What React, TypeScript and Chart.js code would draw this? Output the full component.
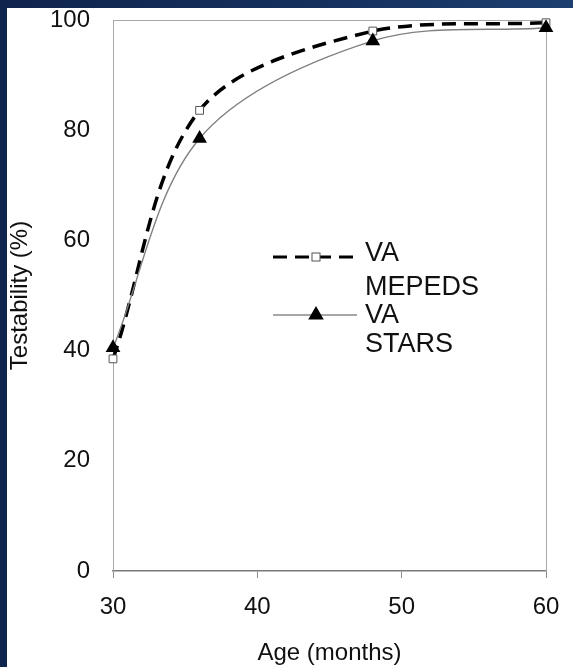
import React, { useEffect, useRef } from "react";
import { Chart, registerables } from "chart.js";

Chart.register(...registerables);

const ages = [30, 36, 48, 60];
const mepedsValues = [38.5, 83.6, 98, 99.5];
const starsValues = [40.5, 78.5, 96.2, 98.6];
const mepedsLabel = ["VA", "MEPEDS"];
const starsLabel = ["VA", "STARS"];
const xTickValues = [30, 40, 50, 60];
const yTickValues = [0, 20, 40, 60, 80, 100];
const xTitle = "Age (months)";
const yTitle = "Testability (%)";

const FONT = "'Liberation Sans', Arial, Helvetica, sans-serif";
const TEXT = "#111111";

const W = 566;
const H = 659;

const boxPlugin = {
  id: "plotBox",
  beforeDatasetsDraw(chart: any) {
    const { ctx, chartArea: a } = chart;
    ctx.save();
    ctx.strokeStyle = "#a8a8a8";
    ctx.lineWidth = 1;
    ctx.beginPath();
    ctx.moveTo(a.left, a.top + 0.5);
    ctx.lineTo(a.right + 0.5, a.top + 0.5);
    ctx.lineTo(a.right + 0.5, a.bottom);
    ctx.stroke();
    ctx.restore();
  },
};

function drawSquare(ctx: CanvasRenderingContext2D, x: number, y: number, s: number) {
  ctx.save();
  ctx.fillStyle = "#ffffff";
  ctx.strokeStyle = "#555555";
  ctx.lineWidth = 1;
  ctx.setLineDash([]);
  ctx.fillRect(x - s / 2, y - s / 2, s, s);
  ctx.strokeRect(x - s / 2, y - s / 2, s, s);
  ctx.restore();
}

function drawTriangle(ctx: CanvasRenderingContext2D, x: number, y: number, r: number) {
  ctx.save();
  ctx.fillStyle = "#000000";
  ctx.beginPath();
  let rad = 0;
  ctx.moveTo(x + Math.sin(rad) * r, y - Math.cos(rad) * r);
  rad += (2 * Math.PI) / 3;
  ctx.lineTo(x + Math.sin(rad) * r, y - Math.cos(rad) * r);
  rad += (2 * Math.PI) / 3;
  ctx.lineTo(x + Math.sin(rad) * r, y - Math.cos(rad) * r);
  ctx.closePath();
  ctx.fill();
  ctx.restore();
}

const legendPlugin = {
  id: "customLegend",
  afterDraw(chart: any) {
    const { ctx, chartArea: a } = chart;
    const x0 = a.left + 160;
    const x1 = a.left + 244;
    const mx = a.left + 203;
    const tx = a.left + 252;
    const y1 = a.top + 237;
    const y2 = a.top + 295;
    ctx.save();
    // series 1: dashed
    ctx.strokeStyle = "#000000";
    ctx.lineWidth = 3;
    ctx.setLineDash([14, 8]);
    ctx.beginPath();
    ctx.moveTo(x0, y1);
    ctx.lineTo(x1, y1);
    ctx.stroke();
    ctx.setLineDash([]);
    drawSquare(ctx, mx, y1, 8);
    // series 2: solid
    ctx.strokeStyle = "#8a8a8a";
    ctx.lineWidth = 1.5;
    ctx.beginPath();
    ctx.moveTo(x0, y2);
    ctx.lineTo(x1, y2);
    ctx.stroke();
    drawTriangle(ctx, mx, y2, 9);
    // text
    ctx.fillStyle = TEXT;
    ctx.font = `27px ${FONT}`;
    ctx.textAlign = "left";
    ctx.textBaseline = "middle";
    ctx.fillText(mepedsLabel[0], tx, a.top + 234);
    ctx.fillText(mepedsLabel[1], tx, a.top + 268);
    ctx.fillText(starsLabel[0], tx, a.top + 296);
    ctx.fillText(starsLabel[1], tx, a.top + 325);
    ctx.restore();
  },
};

function ChartView() {
  const ref = useRef<HTMLCanvasElement | null>(null);
  useEffect(() => {
    if (!ref.current) return;
    const chart = new Chart(ref.current, {
      type: "line",
      data: {
        datasets: [
          {
            label: mepedsLabel.join(" "),
            data: ages.map((a, i) => ({ x: a, y: mepedsValues[i] })),
            borderColor: "#000000",
            borderWidth: 3.5,
            borderDash: [14, 8],
            tension: 0.33,
            pointStyle: "rect",
            pointRadius: 5.5,
            pointBackgroundColor: "#ffffff",
            pointBorderColor: "#555555",
            pointBorderWidth: 1,
            clip: false,
            order: 2,
          },
          {
            label: starsLabel.join(" "),
            data: ages.map((a, i) => ({ x: a, y: starsValues[i] })),
            borderColor: "#808080",
            borderWidth: 1.4,
            tension: 0.33,
            pointStyle: "triangle",
            pointRadius: 8.5,
            pointBackgroundColor: "#000000",
            pointBorderColor: "#000000",
            pointBorderWidth: 0,
            clip: false,
            order: 1,
          },
        ],
      },
      options: {
        responsive: false,
        animation: false,
        events: [],
        layout: { padding: { top: 12, right: 27, left: 0, bottom: 0 } },
        plugins: {
          legend: { display: false },
          tooltip: { enabled: false },
        },
        scales: {
          x: {
            type: "linear",
            min: 30,
            max: 60,
            afterBuildTicks: (s: any) => {
              s.ticks = xTickValues.map((v) => ({ value: v }));
            },
            afterFit: (s: any) => {
              s.height = 96;
              s.paddingLeft = 0;
              s.paddingRight = 0;
            },
            grid: {
              display: true,
              drawOnChartArea: false,
              drawTicks: true,
              tickLength: 7,
              color: "#8a8a8a",
              lineWidth: 1,
            },
            border: { display: true, color: "#7a7a7a", width: 1.5 },
            ticks: {
              color: TEXT,
              font: { family: FONT, size: 24, lineHeight: 1 },
              padding: 17,
              maxRotation: 0,
              autoSkip: false,
            },
            title: {
              display: true,
              text: xTitle,
              color: TEXT,
              font: { family: FONT, size: 24, lineHeight: 1 },
              padding: { top: 0, bottom: 2 },
            },
          },
          y: {
            type: "linear",
            min: 0,
            max: 100,
            afterBuildTicks: (s: any) => {
              s.ticks = yTickValues.map((v) => ({ value: v }));
            },
            afterFit: (s: any) => {
              s.width = 106;
              s.paddingTop = 0;
              s.paddingBottom = 0;
            },
            grid: { display: false, drawTicks: false },
            border: { display: true, color: "#a8a8a8", width: 1 },
            ticks: {
              color: TEXT,
              font: { family: FONT, size: 24, lineHeight: 1 },
              padding: 23,
              autoSkip: false,
            },
            title: {
              display: true,
              text: yTitle,
              color: TEXT,
              font: { family: FONT, size: 24, lineHeight: 1 },
              padding: { top: 1, bottom: 0 },
            },
          },
        },
      },
      plugins: [boxPlugin, legendPlugin],
    } as any);
    return () => chart.destroy();
  }, []);
  return <canvas ref={ref} width={W} height={H} style={{ display: "block", width: W, height: H }} />;
}

export default function App() {
  return (
    <div
      style={{
        position: "fixed",
        left: 0,
        top: 0,
        width: 573,
        height: 667,
        background: "linear-gradient(90deg, #0f244d 0%, #16315f 60%, #1c3f70 100%)",
        overflow: "hidden",
      }}
    >
      <div style={{ position: "absolute", left: 7, top: 8, width: W, height: H, background: "#ffffff" }}>
        <ChartView />
      </div>
    </div>
  );
}
